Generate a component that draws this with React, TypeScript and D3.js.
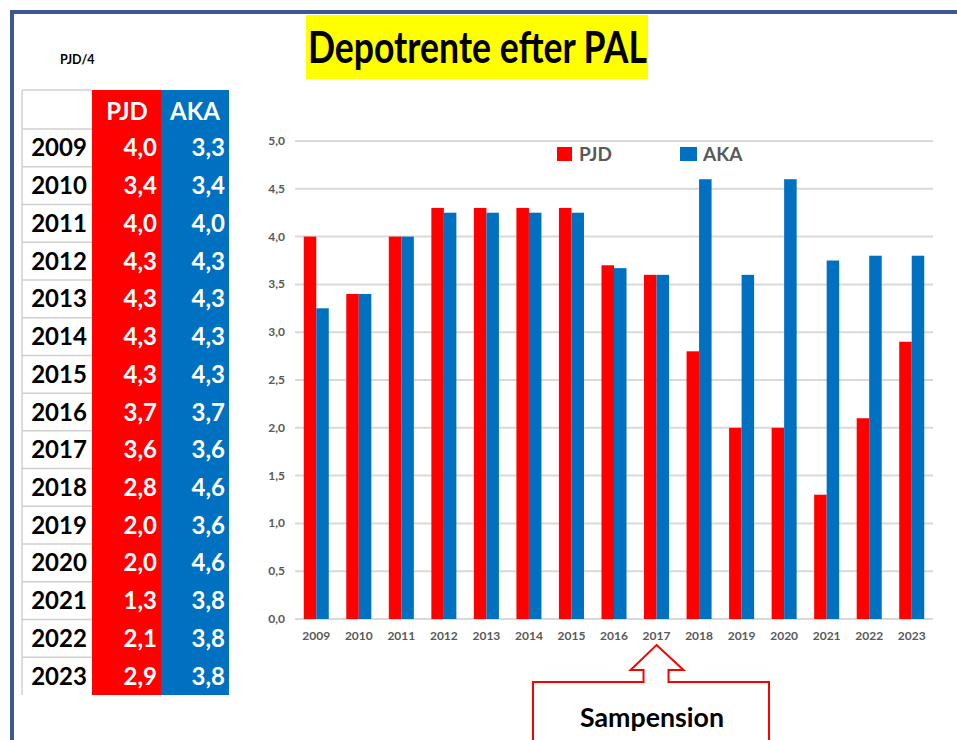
import React from 'react';
import * as d3 from 'd3';

const years = ['2009', '2010', '2011', '2012', '2013', '2014', '2015', '2016', '2017', '2018', '2019', '2020', '2021', '2022', '2023'];
// values as drawn in the bar chart
const pjdBars = [4.0, 3.4, 4.0, 4.3, 4.3, 4.3, 4.3, 3.7, 3.6, 2.8, 2.0, 2.0, 1.3, 2.1, 2.9];
const akaBars = [3.25, 3.4, 4.0, 4.25, 4.25, 4.25, 4.25, 3.67, 3.6, 4.6, 3.6, 4.6, 3.75, 3.8, 3.8];
// values as written in the table on the left
const pjdTable = [4.0, 3.4, 4.0, 4.3, 4.3, 4.3, 4.3, 3.7, 3.6, 2.8, 2.0, 2.0, 1.3, 2.1, 2.9];
const akaTable = [3.3, 3.4, 4.0, 4.3, 4.3, 4.3, 4.3, 3.7, 3.6, 4.6, 3.6, 4.6, 3.8, 3.8, 3.8];
const yTicks = [0, 0.5, 1, 1.5, 2, 2.5, 3, 3.5, 4, 4.5, 5];
const seriesNames = ['PJD', 'AKA'];

const RED = '#ff0000';
const BLUE = '#0070c0';
const GREY = '#595959';
const FONT = 'Lato, "Open Sans", sans-serif';

const fmt = d3.formatLocale({ decimal: ',', thousands: '.', grouping: [3], currency: ['', ''] }).format('.1f');

export default function App() {
    const width = 957;
    const height = 740;

    // chart
    const x = d3.scaleBand<string>().domain(years).range([295, 933]);
    const x1 = d3.scaleBand<string>().domain(seriesNames).range([0, x.bandwidth()]).paddingOuter(0.7);
    const y = d3.scaleLinear().domain([0, 5]).range([619, 141]);

    // table
    const rowY = d3.scaleBand<string>().domain(years).range([129, 695]);
    const col = { year: [22, 92], pjd: [92, 161], aka: [161, 229] };

    // callout shape (arrow pointing up to 2017)
    const tipX = x('2017')! + x.bandwidth() / 2;
    const callout = d3.path();
    callout.moveTo(tipX, 645);
    callout.lineTo(tipX + 27, 670);
    callout.lineTo(tipX + 12, 670);
    callout.lineTo(tipX + 12, 682);
    callout.lineTo(769, 682);
    callout.lineTo(769, 760);
    callout.lineTo(533, 760);
    callout.lineTo(533, 682);
    callout.lineTo(tipX - 13, 682);
    callout.lineTo(tipX - 13, 670);
    callout.lineTo(tipX - 26, 670);
    callout.closePath();

    return (
        <svg width={width} height={height} style={{ position: 'absolute', left: 0, top: 0, background: '#fff' }} fontFamily={FONT}>
            {/* frame */}
            <rect x={12} y={12} width={width + 20} height={height + 20} fill="none" stroke="#3a5896" strokeWidth={4} />

            {/* title */}
            <rect x={306} y={15} width={342} height={64} fill="#ffff00" />
            <text x={308} y={63} fontSize={44} fontWeight={700} fill="#000" textLength={339} lengthAdjust="spacingAndGlyphs">Depotrente efter PAL</text>

            <text x={60} y={64} fontSize={12.5} fontWeight={700} fill="#000">PJD/4</text>

            {/* table */}
            <rect x={col.pjd[0]} y={90} width={col.pjd[1] - col.pjd[0]} height={695 - 90} fill={RED} />
            <rect x={col.aka[0]} y={90} width={col.aka[1] - col.aka[0]} height={695 - 90} fill={BLUE} />
            <line x1={col.year[0]} x2={col.year[1]} y1={90} y2={90} stroke="#d0d0d0" strokeWidth={1.5} />
            <line x1={col.year[0]} x2={col.year[0]} y1={90} y2={695} stroke="#d0d0d0" strokeWidth={1.5} />
            <text x={127} y={120} textAnchor="middle" fontSize={24} fontWeight={700} fill="#fff">PJD</text>
            <text x={195} y={120} textAnchor="middle" fontSize={24} fontWeight={700} fill="#fff">AKA</text>
            {years.map((yr, i) => {
                const top = rowY(yr)!;
                const mid = top + rowY.bandwidth() / 2 + 8.5;
                return (
                    <g key={yr}>
                        <line x1={col.year[0]} x2={col.year[1]} y1={top} y2={top} stroke="#d0d0d0" strokeWidth={1.5} />
                        <text x={59} y={mid} textAnchor="middle" fontSize={24} fontWeight={700} fill="#000">{yr}</text>
                        <text x={157} y={mid} textAnchor="end" fontSize={24} fontWeight={700} fill="#fff">{fmt(pjdTable[i])}</text>
                        <text x={225} y={mid} textAnchor="end" fontSize={24} fontWeight={700} fill="#fff">{fmt(akaTable[i])}</text>
                    </g>
                );
            })}

            {/* gridlines + y labels */}
            {yTicks.map(t => (
                <g key={t}>
                    <line x1={295} x2={933} y1={y(t)} y2={y(t)} stroke="#d9d9d9" strokeWidth={2} />
                    <text x={285} y={y(t) + 4} textAnchor="end" fontSize={12} fontWeight={700} fill={GREY}>{fmt(t)}</text>
                </g>
            ))}

            {/* bars */}
            {years.map((yr, i) => (
                <g key={yr} transform={`translate(${x(yr)},0)`}>
                    <rect x={x1('PJD')} y={y(pjdBars[i])} width={x1.bandwidth()} height={y(0) - y(pjdBars[i])} fill={RED} />
                    <rect x={x1('AKA')} y={y(akaBars[i])} width={x1.bandwidth()} height={y(0) - y(akaBars[i])} fill={BLUE} />
                    <text x={x.bandwidth() / 2} y={640} textAnchor="middle" fontSize={12} fontWeight={700} fill={GREY}>{yr}</text>
                </g>
            ))}

            {/* legend */}
            <rect x={557} y={147} width={15} height={14} fill={RED} />
            <text x={579} y={161} fontSize={19} fontWeight={700} fill={GREY}>PJD</text>
            <rect x={680} y={147} width={17} height={14} fill={BLUE} />
            <text x={703} y={161} fontSize={19} fontWeight={700} fill={GREY}>AKA</text>

            {/* callout */}
            <path d={callout.toString()} fill="#fff" stroke={RED} strokeWidth={2} />
            <text x={580} y={727} fontSize={26} fontWeight={700} fill="#000" textLength={144} lengthAdjust="spacingAndGlyphs">Sampension</text>
        </svg>
    );
}
